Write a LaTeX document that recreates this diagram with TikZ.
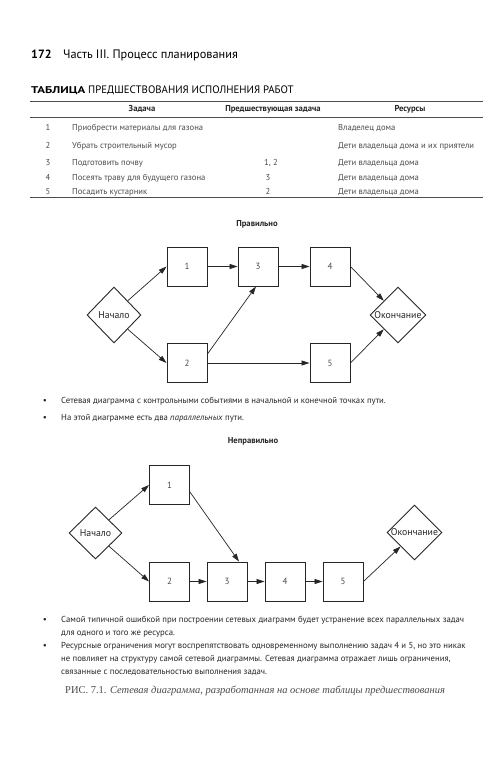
\documentclass[tikz,border=0pt]{standalone}
\usepackage{fontspec}
\setmainfont{PT Sans}
\newfontfamily\capfont{Liberation Serif}
\usetikzlibrary{shapes.geometric,arrows.meta}
\definecolor{ink}{gray}{0.15}
\definecolor{soft}{gray}{0.3}
\begin{document}
\begin{tikzpicture}[x=1pt,y=-1pt,
  box/.style={draw=ink, line width=0.9pt, minimum width=40pt, minimum height=39pt, inner sep=0pt, font=\fontsize{9}{10}\selectfont, text=soft},
  dia/.style={draw=ink, line width=0.9pt, diamond, inner sep=0pt},
  dtext/.style={inner sep=0pt, font=\fontsize{9.8}{10}\selectfont, text=ink},
  arr/.style={draw=ink, line width=0.7pt, -{Triangle[length=8pt,width=5pt]}},
  tx/.style={anchor=base west, inner sep=0pt, font=\fontsize{8.7}{10}\selectfont, text=ink},
  tb/.style={anchor=base west, inner sep=0pt, font=\fontsize{8.6}{10}\selectfont, text=soft},
  tbc/.style={anchor=base, inner sep=0pt, font=\fontsize{8.6}{10}\selectfont, text=soft},
  th/.style={anchor=base, inner sep=0pt, font=\fontsize{8.6}{10}\selectfont\bfseries, text=ink},
  rule/.style={draw=soft, line width=0.8pt},
  bul/.style={anchor=base, inner sep=0pt, font=\fontsize{9}{10}\selectfont, text=ink}
]
\useasboundingbox[fill=white] (0,0) rectangle (500,782);

% header
\node[anchor=base west, inner sep=0pt, font=\fontsize{12}{14}\selectfont\bfseries, text=black] (pg) at (31,58.5) {172};
\node[anchor=base west, inner sep=0pt, font=\fontsize{12.3}{14}\selectfont, text=black] (hd) at (63,58.5) {Часть III. Процесс планирования};
\node[anchor=base west, inner sep=0pt, font=\fontsize{9.8}{12}\selectfont\bfseries, text=black] (tt1) at (31,93.3) {\scalebox{1.3}[1]{ТАБЛИЦА}};
\node[anchor=base west, inner sep=0pt, font=\fontsize{10.8}{12}\selectfont, text=black] (tt2) at ([xshift=2.6pt]tt1.base east) {ПРЕДШЕСТВОВАНИЯ ИСПОЛНЕНИЯ РАБОТ};

% table
\coordinate (r1a) at (30,101.5); \coordinate (r1b) at (483,101.5);
\coordinate (r2a) at (30,117); \coordinate (r2b) at (483,117);
\coordinate (r3a) at (30,197.5); \coordinate (r3b) at (483,197.5);
\draw[rule, line width=1.4pt] (r1a) -- (r1b);
\draw[rule] (r2a) -- (r2b);
\draw[rule, line width=1.1pt] (r3a) -- (r3b);

\node[th] (h1) at (142,111) {Задача};
\node[th] (h2) at (273,111) {Предшествующая задача};
\node[th] (h3) at (410,111) {Ресурсы};

\node[tbc] (n1) at (48,130) {1};
\node[tb] (a1) at (72,130) {Приобрести материалы для газона};
\node[tb] (c1) at (338,130) {Владелец дома};
\node[tbc] (n2) at (48,148) {2};
\node[tb] (a2) at (72,148) {Убрать строительный мусор};
\node[tb] (c2) at (338,148) {Дети владельца дома и их приятели};
\node[tbc] (n3) at (48,165) {3};
\node[tb] (a3) at (72,165) {Подготовить почву};
\node[tbc] (b3) at (271,165) {1, 2};
\node[tb] (c3) at (338,165) {Дети владельца дома};
\node[tbc] (n4) at (48,180) {4};
\node[tb] (a4) at (72,180) {Посеять траву для будущего газона};
\node[tbc] (b4) at (268,180) {3};
\node[tb] (c4) at (338,180) {Дети владельца дома};
\node[tbc] (n5) at (48,194.5) {5};
\node[tb] (a5) at (72,194.5) {Посадить кустарник};
\node[tbc] (b5) at (268,194.5) {2};
\node[tb] (c5) at (338,194.5) {Дети владельца дома};

% diagram 1
\node[th] (ok) at (257,226) {Правильно};
\node[box] (p1) at (187,266.5) {1};
\node[box] (p3) at (258,266.5) {3};
\node[box] (p4) at (330,266.5) {4};
\node[box] (p2) at (187,363) {2};
\node[box] (p5) at (330,363) {5};
\node[dia, minimum width=54pt, minimum height=56pt] (ps) at (114,315) {};
\node[dtext] (pst) at (ps.center) {Начало};
\node[dia, minimum width=56pt, minimum height=56pt] (pe) at (398,315) {};
\node[dtext] (pet) at (pe.center) {Окончание};
\draw[arr] (ps.north east) -- (p1.west);
\draw[arr] (ps.south east) -- (p2.west);
\draw[arr] (p1.east) -- (p3.west);
\draw[arr] (p3.east) -- (p4.west);
\draw[arr] ([yshift=9pt]p2.east) -- ([xshift=-2pt]p3.south);
\draw[arr] (p2.east) -- (p5.west);
\draw[arr] (p4.east) -- (pe.north west);
\draw[arr] (p5.east) -- (pe.south west);

% bullets 1
\node[bul] (d1) at (45,403.5) {•};
\node[tx] (l1) at (61,403.5) {Сетевая диаграмма с контрольными событиями в начальной и конечной точках пути.};
\node[bul] (d2) at (45,420) {•};
\node[tx] (l2) at (61,420) {На этой диаграмме есть два \textit{параллельных} пути.};

% diagram 2
\node[th] (bad) at (253,443) {Неправильно};
\node[box] (q1) at (169.5,485) {1};
\node[box] (q2) at (169.5,581.5) {2};
\node[box] (q3) at (227,581.5) {3};
\node[box] (q4) at (285,581.5) {4};
\node[box] (q5) at (343,581.5) {5};
\node[dia, minimum width=53pt, minimum height=52pt] (qs) at (95.5,533) {};
\node[dtext] (qst) at (qs.center) {Начало};
\node[dia, minimum width=55pt, minimum height=55pt] (qe) at (414.5,532.5) {};
\node[dtext] (qet) at (qe.center) {Окончание};
\draw[arr] (qs.north east) -- (q1.west);
\draw[arr] (qs.south east) -- (q2.west);
\draw[arr] ([yshift=-7pt]q1.east) -- ([xshift=12pt]q3.north);
\draw[arr] (q2.east) -- (q3.west);
\draw[arr] (q3.east) -- (q4.west);
\draw[arr] (q4.east) -- (q5.west);
\draw[arr] (q5.east) -- (qe.south west);

% bullets 2
\node[bul] (d3) at (45,622.5) {•};
\node[tx] (m1) at (61,622.5) {Самой типичной ошибкой при построении сетевых диаграмм будет устранение всех параллельных задач};
\node[tx] (m2) at (61,635) {для одного и того же ресурса.};
\node[bul] (d4) at (45,648.3) {•};
\node[tx] (m3) at (61,648.3) {Ресурсные ограничения могут воспрепятствовать одновременному выполнению задач 4 и 5, но это никак};
\node[tx] (m4) at (61,661.5) {не повлияет на структуру самой сетевой диаграммы. Сетевая диаграмма отражает лишь ограничения,};
\node[tx] (m5) at (61,674.3) {связанные с последовательностью выполнения задач.};

% caption
\node[anchor=base west, inner sep=0pt, font=\capfont\fontsize{10.5}{12}\selectfont, text=soft] (cap) at (65,693.3) {РИС. 7.1. \textit{Сетевая диаграмма, разработанная на основе таблицы предшествования}};
\end{tikzpicture}
\end{document}
